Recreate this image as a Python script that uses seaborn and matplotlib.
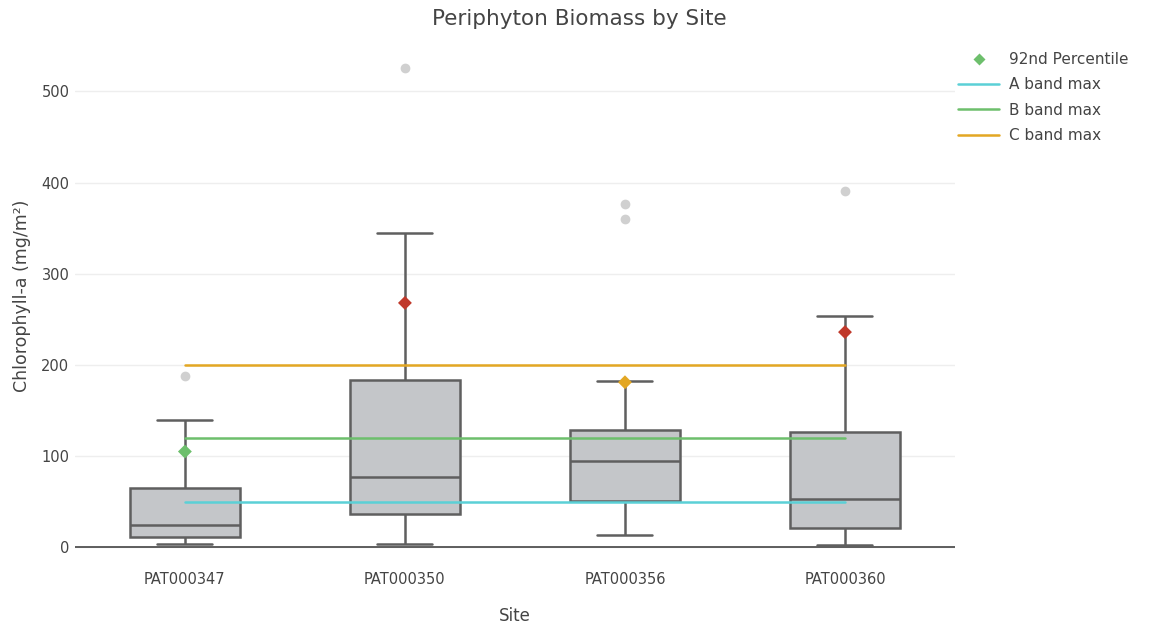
import numpy as np
import pandas as pd
import matplotlib
matplotlib.use("Agg")
import matplotlib.pyplot as plt
from matplotlib.lines import Line2D
import seaborn as sns

# ---- data ----
sites = ["PAT000347", "PAT000350", "PAT000356", "PAT000360"]
mins = [3.5, 3.5, 14, 2]
q1s = [11, 36, 51, 21]
medians = [24, 77, 95, 53]
q3s = [64.5, 183, 129, 126]
whisker_tops = [140, 345, 182, 254]
outliers = [[188], [526], [360, 377], [391]]
p92 = [105, 268, 181, 236]
p92_band = ["B", "D", "C", "D"]
band_names = ["A band max", "B band max", "C band max"]
band_values = [50, 120, 200]

band_colors = {"A": "#5bd0d6", "B": "#6dbf6c", "C": "#e3a723", "D": "#c0392b"}
line_colors = ["#5bd0d6", "#6dbf6c", "#e3a723"]

# Build samples whose linear quartiles reproduce the read box statistics
rows = []
for s, mn, a, m, b, w, outs in zip(sites, mins, q1s, medians, q3s, whisker_tops, outliers):
    k = len(outs) + 1
    vals = [mn] + [a] * k + [m] * k + [b] * k + [w] + list(outs)
    for v in vals:
        rows.append({"Site": s, "value": v})
df = pd.DataFrame(rows)

sns.set_theme(style="white")
plt.rcParams["font.family"] = ["DejaVu Sans"]

fig = plt.figure(figsize=(11.52, 6.25), dpi=100)
ax = fig.add_axes([0.065, 0.12, 0.764, 0.814])

text_c = "#444444"
box_edge = "#5f5f5f"

sns.boxplot(
    data=df, x="Site", y="value", order=sites, ax=ax, width=0.5,
    color="#c4c6c9", whis=1.5, linewidth=1.8, linecolor=box_edge,
    saturation=1,
    boxprops=dict(facecolor="#c4c6c9", edgecolor=box_edge),
    medianprops=dict(color=box_edge),
    whiskerprops=dict(color=box_edge),
    capprops=dict(color=box_edge),
    flierprops=dict(marker="o", markersize=6, markerfacecolor="#d0d0d0",
                    markeredgecolor="#d0d0d0"),
    zorder=2,
)

# band max lines across sites
xpos = [0, len(sites) - 1]
for name, val, col in zip(band_names, band_values, line_colors):
    sns.lineplot(x=xpos, y=[val, val], ax=ax, color=col, linewidth=1.8, zorder=3)

# 92nd percentile diamonds
pdf = pd.DataFrame({"x": list(range(len(sites))), "y": p92, "band": p92_band})
sns.scatterplot(data=pdf, x="x", y="y", hue="band", palette=band_colors,
                marker="D", s=50, edgecolor="none", legend=False, ax=ax, zorder=4)

ax.set_xlim(-0.5, 3.5)
ax.set_ylim(-3, 555)
ax.set_yticks([0, 100, 200, 300, 400, 500])
ax.yaxis.grid(True, color="#eeeeee", linewidth=1)
ax.set_axisbelow(True)
for sp in ax.spines.values():
    sp.set_visible(False)
ax.axhline(0, color="#444444", linewidth=1.2, zorder=1)
ax.tick_params(axis="y", length=0, labelsize=10.5, colors=text_c, pad=4)
ax.tick_params(axis="x", length=0, labelsize=10.5, colors=text_c, pad=16)
ax.set_xticks(range(len(sites)))
ax.set_xticklabels(sites)
ax.set_xlabel("Site", fontsize=12, color=text_c, labelpad=14)
ax.set_ylabel("Chlorophyll-a (mg/m²)", fontsize=12.5, color=text_c, labelpad=7)
fig.suptitle("Periphyton Biomass by Site", x=0.503, y=0.985, fontsize=15.5, color=text_c)

handles = [
    Line2D([0], [0], marker="D", color="none", markerfacecolor=band_colors["B"],
           markeredgecolor="none", markersize=6),
] + [Line2D([0], [0], color=c, linewidth=1.8) for c in line_colors]
labels = ["92nd Percentile"] + band_names
leg = ax.legend(handles, labels, loc="upper left", bbox_to_anchor=(1.0, 0.985),
                frameon=False, fontsize=11, handlelength=2.7, labelspacing=0.68,
                handletextpad=0.65, borderaxespad=0.0, borderpad=0.2)
for t in leg.get_texts():
    t.set_color(text_c)

fig.savefig("out.png", dpi=100)
